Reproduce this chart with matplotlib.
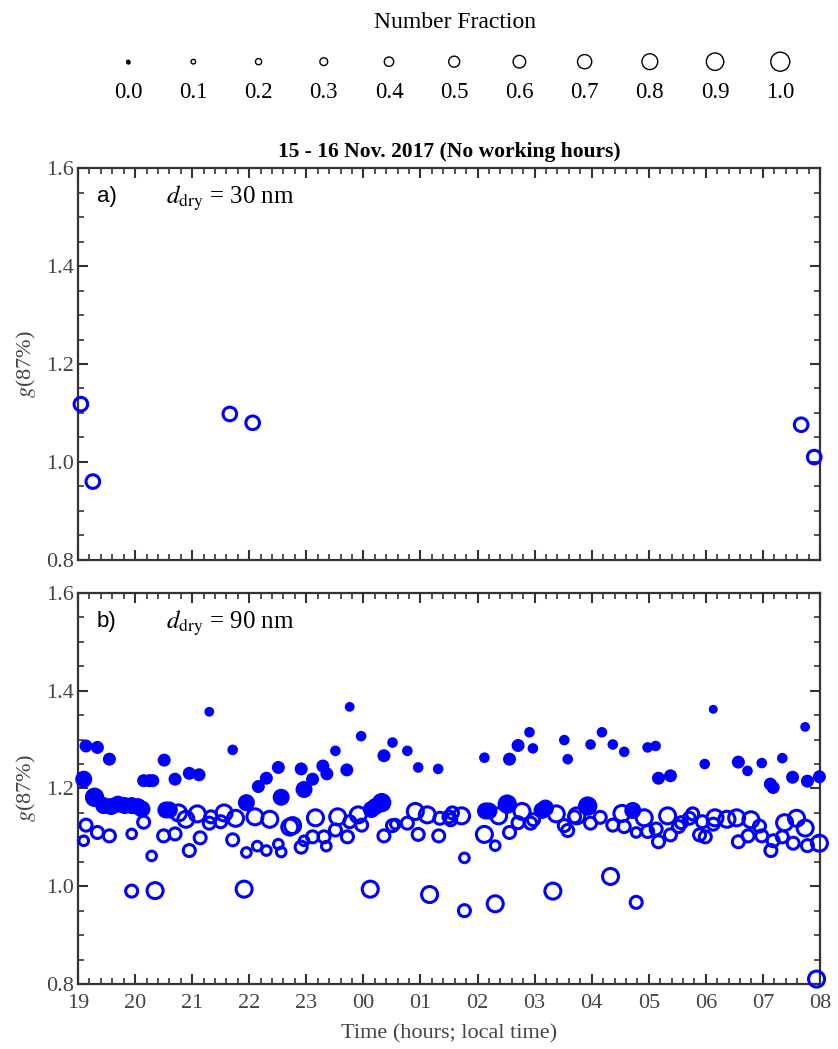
import matplotlib
matplotlib.use('Agg')
import matplotlib.pyplot as plt
from matplotlib.ticker import MultipleLocator, FuncFormatter
import numpy as np

plt.rcParams['font.family'] = ['Liberation Serif', 'DejaVu Serif']
plt.rcParams['mathtext.fontset'] = 'stix'

# legend: number fraction classes
legend_fracs = [0.0, 0.1, 0.2, 0.3, 0.4, 0.5, 0.6, 0.7, 0.8, 0.9, 1.0]

# panel a) d_dry = 30 nm (hours after midnight of 15 Nov: 24 = 00 h)
a_time = [19.05, 19.26, 21.66, 22.06, 31.67, 31.90]
a_g = [1.118, 0.960, 1.098, 1.080, 1.076, 1.010]
a_frac = [0.6, 0.6, 0.6, 0.6, 0.6, 0.6]

# panel b) d_dry = 90 nm, open circles (less hygroscopic mode)
b_open_time = [19.10, 19.14, 19.34, 19.55, 19.94, 19.94, 20.15, 20.29, 20.35, 20.50,
               20.70, 20.76, 20.89, 20.95, 21.09, 21.14, 21.30, 21.33, 21.50, 21.56,
               21.71, 21.76, 21.91, 21.95, 22.10, 22.14, 22.30, 22.36, 22.51, 22.56,
               22.71, 22.76, 22.91, 22.96, 23.11, 23.16, 23.31, 23.35, 23.51, 23.55,
               23.72, 23.76, 23.91, 23.97, 24.12, 24.36, 24.51, 24.56, 24.77, 24.91,
               24.96, 25.12, 25.16, 25.32, 25.34, 25.50, 25.53, 25.56, 25.72, 25.77,
               25.77, 26.12, 26.31, 26.31, 26.37, 26.56, 26.71, 26.78, 26.93, 26.98,
               27.32, 27.38, 27.52, 27.58, 27.70, 27.74, 27.98, 28.15, 28.33, 28.37,
               28.53, 28.57, 28.78, 28.78, 28.92, 28.98, 29.13, 29.17, 29.33, 29.38,
               29.52, 29.57, 29.71, 29.77, 29.89, 29.94, 29.99, 30.13, 30.16, 30.37,
               30.54, 30.57, 30.74, 30.79, 30.94, 30.98, 31.14, 31.18, 31.34, 31.38,
               31.53, 31.59, 31.74, 31.78, 31.99, 31.94]
b_open_g = [1.093, 1.125, 1.110, 1.103, 1.107, 0.990, 1.131, 1.062, 0.991, 1.103,
            1.107, 1.150, 1.137, 1.073, 1.148, 1.099, 1.129, 1.142, 1.132, 1.150,
            1.095, 1.139, 0.994, 1.069, 1.142, 1.082, 1.073, 1.137, 1.086, 1.070,
            1.121, 1.124, 1.080, 1.093, 1.101, 1.140, 1.101, 1.082, 1.115, 1.142,
            1.101, 1.132, 1.146, 1.125, 0.994, 1.103, 1.124, 1.127, 1.129, 1.153,
            1.106, 1.146, 0.983, 1.103, 1.139, 1.142, 1.136, 1.150, 1.144, 1.058,
            0.950, 1.106, 1.083, 0.964, 1.144, 1.110, 1.130, 1.153, 1.129, 1.136,
            0.990, 1.148, 1.124, 1.114, 1.142, 1.144, 1.129, 1.141, 1.020, 1.125,
            1.149, 1.122, 0.967, 1.110, 1.140, 1.112, 1.117, 1.091, 1.144, 1.105,
            1.122, 1.130, 1.139, 1.148, 1.105, 1.132, 1.101, 1.127, 1.140, 1.137,
            1.140, 1.091, 1.103, 1.136, 1.123, 1.103, 1.073, 1.093, 1.101, 1.130,
            1.088, 1.139, 1.119, 1.083, 1.088, 0.810]
b_open_frac = [0.35, 0.5, 0.5, 0.5, 0.35, 0.5, 0.5, 0.35, 0.75, 0.5,
               0.5, 0.75, 0.75, 0.5, 0.75, 0.5, 0.5, 0.5, 0.5, 0.75,
               0.5, 0.75, 0.75, 0.35, 0.75, 0.35, 0.35, 0.75, 0.35, 0.35,
               0.75, 0.75, 0.5, 0.35, 0.5, 0.75, 0.5, 0.35, 0.5, 0.75,
               0.5, 0.5, 0.75, 0.5, 0.75, 0.5, 0.5, 0.35, 0.5, 0.75,
               0.5, 0.75, 0.75, 0.5, 0.5, 0.5, 0.5, 0.5, 0.75, 0.35,
               0.5, 0.75, 0.35, 0.75, 0.75, 0.5, 0.5, 0.75, 0.5, 0.5,
               0.75, 0.75, 0.5, 0.5, 0.5, 0.75, 0.5, 0.5, 0.75, 0.5,
               0.75, 0.5, 0.5, 0.35, 0.75, 0.5, 0.5, 0.5, 0.75, 0.5,
               0.5, 0.5, 0.5, 0.5, 0.5, 0.5, 0.5, 0.5, 0.75, 0.75,
               0.75, 0.5, 0.5, 0.75, 0.5, 0.5, 0.5, 0.5, 0.5, 0.75,
               0.5, 0.75, 0.75, 0.5, 0.75, 0.75]

# panel b) filled circles (more hygroscopic mode)
b_fill_time = [19.10, 19.14, 19.29, 19.34, 19.45, 19.55, 19.58, 19.70, 19.82, 19.94,
               20.05, 20.12, 20.15, 20.25, 20.31, 20.51, 20.54, 20.60, 20.70, 20.95,
               21.12, 21.30, 21.71, 21.95, 22.16, 22.30, 22.51, 22.56, 22.91, 22.96,
               23.11, 23.29, 23.36, 23.51, 23.71, 23.76, 23.96, 24.14, 24.21, 24.32,
               24.36, 24.51, 24.77, 24.96, 25.31, 26.12, 26.14, 26.20, 26.52, 26.56,
               26.71, 26.91, 26.97, 27.13, 27.19, 27.52, 27.58, 27.93, 27.98, 28.18,
               28.37, 28.57, 28.72, 28.98, 29.12, 29.17, 29.38, 29.98, 30.13, 30.57,
               30.73, 30.98, 31.13, 31.18, 31.34, 31.52, 31.74, 31.78, 31.99]
b_fill_g = [1.219, 1.287, 1.182, 1.284, 1.165, 1.260, 1.163, 1.168, 1.165, 1.165,
            1.163, 1.158, 1.216, 1.216, 1.216, 1.258, 1.156, 1.156, 1.219, 1.231,
            1.228, 1.357, 1.279, 1.171, 1.204, 1.221, 1.243, 1.182, 1.240, 1.198,
            1.219, 1.246, 1.230, 1.277, 1.238, 1.367, 1.307, 1.157, 1.163, 1.171,
            1.267, 1.294, 1.277, 1.243, 1.240, 1.263, 1.154, 1.154, 1.168, 1.260,
            1.288, 1.315, 1.282, 1.155, 1.160, 1.299, 1.260, 1.164, 1.290, 1.315,
            1.290, 1.275, 1.155, 1.284, 1.287, 1.221, 1.226, 1.250, 1.362, 1.254,
            1.236, 1.252, 1.209, 1.202, 1.262, 1.223, 1.326, 1.215, 1.224]
b_fill_frac = [0.75, 0.5, 0.9, 0.5, 0.75, 0.5, 0.75, 0.75, 0.75, 0.75,
               0.75, 0.75, 0.5, 0.5, 0.5, 0.5, 0.75, 0.75, 0.5, 0.5,
               0.5, 0.3, 0.35, 0.75, 0.5, 0.5, 0.5, 0.75, 0.5, 0.75,
               0.5, 0.5, 0.5, 0.35, 0.5, 0.3, 0.35, 0.75, 0.75, 0.9,
               0.5, 0.35, 0.35, 0.35, 0.35, 0.35, 0.75, 0.75, 0.9, 0.5,
               0.5, 0.35, 0.35, 0.75, 0.75, 0.35, 0.35, 0.9, 0.35, 0.35,
               0.35, 0.35, 0.75, 0.35, 0.35, 0.5, 0.5, 0.35, 0.25, 0.5,
               0.35, 0.35, 0.5, 0.5, 0.35, 0.5, 0.3, 0.5, 0.5]

hour_ticks = list(range(19, 33))

BLUE = '#0000ff'
GREY = '#444444'
SPINE = '#333333'
DPI = 100


def frac_to_s(frac, base=3.0, scale=16.0):
    # marker area in pt^2 from number fraction
    d_px = base + scale * np.asarray(frac)
    d_pt = d_px * 72.0 / DPI
    return d_pt ** 2


def style_axis(ax, show_xlabels):
    ax.set_xlim(19, 32)
    ax.set_ylim(0.8, 1.6)
    ax.xaxis.set_major_locator(MultipleLocator(1))
    ax.xaxis.set_minor_locator(MultipleLocator(0.2))
    ax.yaxis.set_major_locator(MultipleLocator(0.2))
    ax.yaxis.set_minor_locator(MultipleLocator(0.05))
    ax.xaxis.set_major_formatter(FuncFormatter(lambda v, p: '%02d' % (int(round(v)) % 24)))
    ax.yaxis.set_major_formatter(FuncFormatter(lambda v, p: '%.1f' % v))
    ax.tick_params(which='both', direction='in', top=True, right=True,
                   colors=SPINE, labelcolor=GREY, labelsize=16)
    ax.tick_params(which='major', length=7, width=1.5)
    ax.tick_params(which='minor', length=4, width=1.2)
    ax.tick_params(axis='x', which='major', pad=7)
    ax.tick_params(axis='y', which='major', pad=3)
    if not show_xlabels:
        ax.tick_params(labelbottom=False)
    for sp in ax.spines.values():
        sp.set_color(SPINE)
        sp.set_linewidth(1.6)
    ax.set_ylabel(r'$g$(87%)', color=GREY, fontsize=16, labelpad=6)


fig = plt.figure(figsize=(8.38, 10.49), dpi=DPI)

# size legend
ax_leg = fig.add_axes([0.114, 0.895, 0.856, 0.06])
ax_leg.set_xlim(-0.5, len(legend_fracs) - 0.5)
ax_leg.set_ylim(0, 1)
ax_leg.axis('off')
idx = np.arange(len(legend_fracs))
ax_leg.scatter(idx, [0.77] * len(idx), s=frac_to_s(legend_fracs), facecolors='none',
               edgecolors='black', linewidths=1.0)
ax_leg.scatter([0], [0.77], s=frac_to_s([0.0]), color='black')
for i, f in enumerate(legend_fracs):
    ax_leg.text(i, 0.28, '%.1f' % f, ha='center', va='center', fontsize=16.5)
fig.text(0.543, 0.979, 'Number Fraction', ha='center', va='center', fontsize=17)

# panel a
ax_a = fig.add_axes([0.0931, 0.4662, 0.8854, 0.3736])
ax_a.scatter(a_time, a_g, s=frac_to_s(a_frac, 4.0), facecolors='none', edgecolors=BLUE,
             linewidths=2.2, clip_on=False, zorder=3)
style_axis(ax_a, False)
ax_a.set_title('15 - 16 Nov. 2017 (No working hours)', fontsize=15.5, fontweight='bold',
               pad=8)
ax_a.text(0.025, 0.955, 'a)', transform=ax_a.transAxes, fontsize=16,
          family='Liberation Sans', va='top')
ax_a.text(0.118, 0.96, r'$d_{\mathrm{dry}}$ = 30 nm', transform=ax_a.transAxes,
          fontsize=18, va='top')

# panel b
ax_b = fig.add_axes([0.0931, 0.0620, 0.8854, 0.3727])
ax_b.scatter(b_open_time, b_open_g, s=frac_to_s(b_open_frac, 4.0), facecolors='none',
             edgecolors=BLUE, linewidths=2.2, clip_on=False, zorder=3)
ax_b.scatter(b_fill_time, b_fill_g, s=frac_to_s(b_fill_frac, 5.0), color=BLUE,
             linewidths=0, clip_on=False, zorder=3)
style_axis(ax_b, True)
ax_b.set_xticks(hour_ticks)
ax_b.set_xlabel('Time (hours; local time)', color=GREY, fontsize=16, labelpad=8)
ax_b.text(0.025, 0.955, 'b)', transform=ax_b.transAxes, fontsize=16,
          family='Liberation Sans', va='top')
ax_b.text(0.118, 0.96, r'$d_{\mathrm{dry}}$ = 90 nm', transform=ax_b.transAxes,
          fontsize=18, va='top')

fig.savefig('out.png', dpi=DPI)
